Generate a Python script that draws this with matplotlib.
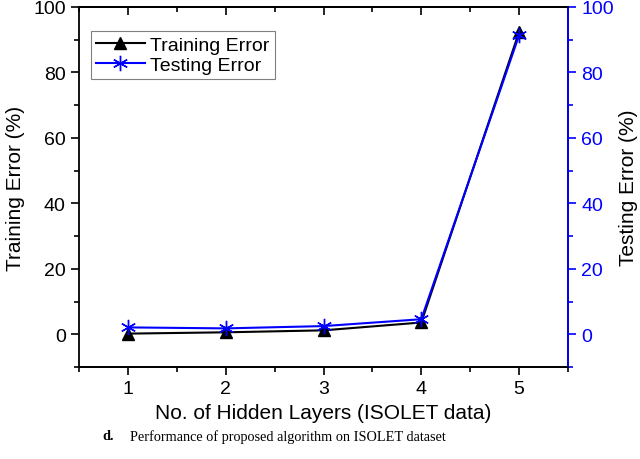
import matplotlib
matplotlib.use('Agg')
from matplotlib import pyplot as plt
from matplotlib.ticker import MultipleLocator

# data
layers = [1, 2, 3, 4, 5]
train_err = [0.2, 0.6, 1.2, 3.6, 92.4]
test_err = [2.1, 1.8, 2.5, 4.6, 91.4]

plt.rcParams['font.family'] = ['Liberation Sans', 'DejaVu Sans']
plt.rcParams['font.size'] = 14

fig = plt.figure(figsize=(6.4, 4.6), dpi=100)
ax = fig.add_axes([79/640, 1 - 368/460, (568-79)/640, (368-8)/460])
ax2 = ax.twinx()

l1, = ax.plot(layers, train_err, color='black', lw=1.5, marker='^', ms=9,
              label='Training Error')
l2, = ax2.plot(layers, test_err, color='blue', lw=1.5, marker=(6, 2, 0), ms=11,
               mew=1.0, label='Testing Error')

ax.set_xlim(0.5, 5.5)
ax.set_ylim(-10, 100)
ax2.set_ylim(-10, 100)
ax.xaxis.set_major_locator(MultipleLocator(1))
ax.xaxis.set_minor_locator(MultipleLocator(0.5))
ax.yaxis.set_major_locator(MultipleLocator(20))
ax.yaxis.set_minor_locator(MultipleLocator(10))
ax2.yaxis.set_major_locator(MultipleLocator(20))
ax2.yaxis.set_minor_locator(MultipleLocator(10))

ax.tick_params(axis='x', which='major', direction='out', length=6, width=1.2, labelsize=14)
ax.tick_params(axis='x', which='minor', direction='out', length=3.5, width=1.2)
ax.tick_params(axis='y', which='major', direction='out', length=6, width=1.2, labelsize=14)
ax.tick_params(axis='y', which='minor', direction='out', length=3.5, width=1.2)
ax2.tick_params(axis='y', which='major', direction='out', length=6, width=1.2,
                colors='blue', labelsize=14)
ax2.tick_params(axis='y', which='minor', direction='out', length=3.5, width=1.2,
                colors='blue')

# top ticks point inward
top = ax.secondary_xaxis('top')
top.xaxis.set_major_locator(MultipleLocator(1))
top.xaxis.set_minor_locator(MultipleLocator(0.5))
top.tick_params(which='major', direction='in', length=6, width=1.2, labeltop=False)
top.tick_params(which='minor', direction='in', length=3.5, width=1.2)
top.spines['top'].set_linewidth(1.3)

for s in ax.spines.values():
    s.set_linewidth(1.3)
for s in ax2.spines.values():
    s.set_linewidth(1.3)
ax2.spines['right'].set_color('blue')
ax2.spines['left'].set_visible(False)

ax.set_xlabel('No. of Hidden Layers (ISOLET data)', fontsize=15, labelpad=4)
ax.set_ylabel('Training Error (%)', fontsize=15, labelpad=6)
ax2.set_ylabel('Testing Error (%)', fontsize=15, labelpad=4)

leg = ax.legend([l1, l2], ['Training Error', 'Testing Error'], loc='upper left',
                bbox_to_anchor=(0.005, 0.96), fancybox=False, framealpha=1,
                edgecolor='gray', fontsize=14, handlelength=2.5,
                borderpad=0.25, labelspacing=0.15, handletextpad=0.3)
leg.get_frame().set_linewidth(0.8)

# caption
fig.text(102/640, 1 - 437/460, 'd.', ha='left', va='center', fontweight='bold',
         family='Liberation Serif', fontsize=10.3)
fig.text(130/640, 1 - 437/460, 'Performance of proposed algorithm on ISOLET dataset',
         ha='left', va='center', family='Liberation Serif', fontsize=10.3)

plt.savefig('out.png', dpi=100)
